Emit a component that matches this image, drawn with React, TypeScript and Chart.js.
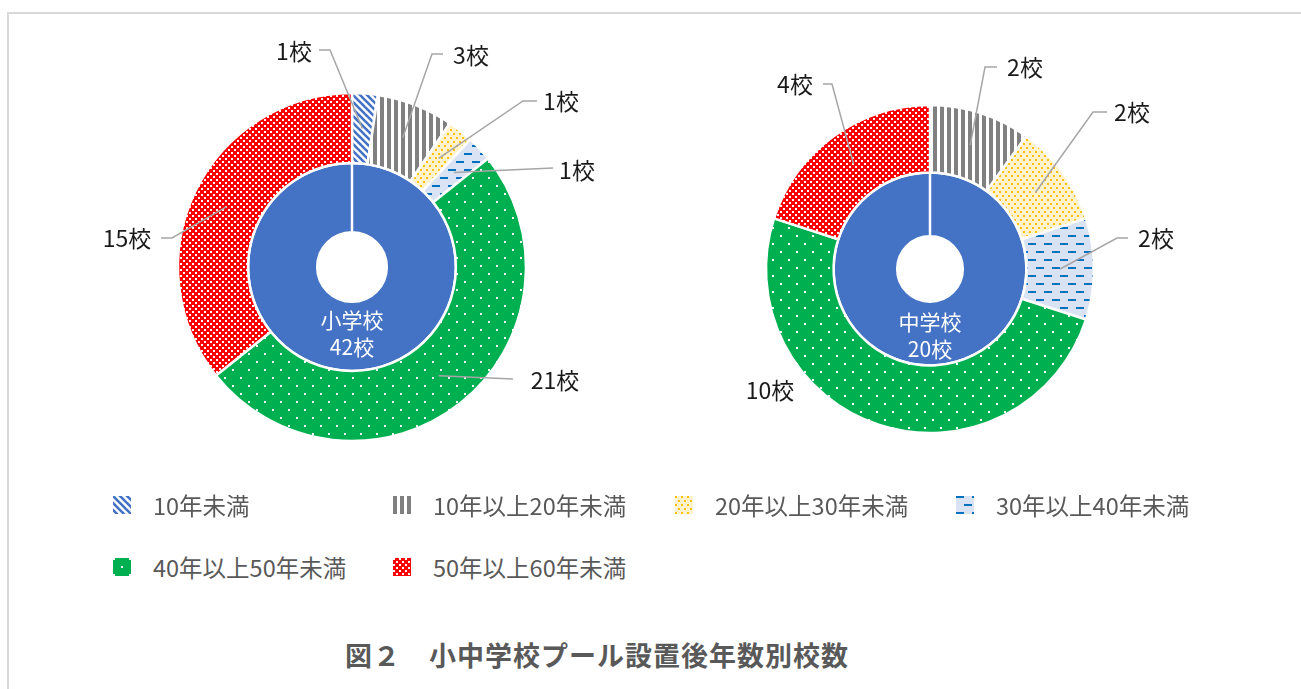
import React, { useEffect, useRef } from "react";
import { Chart, registerables } from "chart.js";

Chart.register(...registerables);

// ---------- data ----------
const categories = [
  "10年未満",
  "10年以上20年未満",
  "20年以上30年未満",
  "30年以上40年未満",
  "40年以上50年未満",
  "50年以上60年未満",
];
const elementaryCounts = [1, 3, 1, 1, 21, 15];
const juniorCounts = [0, 2, 2, 2, 10, 4];
const elementaryName = "小学校";
const juniorName = "中学校";
const elementaryTotal = [42];
const juniorTotal = [20];
const unit = "校";
const figureTitle = "図２　小中学校プール設置後年数別校数";

// ---------- layout (offsets of data labels from the doughnut centre) ----------
type LabelLayout = { text: [number, number]; start?: [number, number]; elbow?: [number, number] } | null;
const elementaryLabelLayout: LabelLayout[] = [
  { text: [-58, -216], start: [-33, -217], elbow: [-22, -217] },
  { text: [119, -212], start: [91, -213], elbow: [80, -213] },
  { text: [209, -166], start: [185, -166], elbow: [171, -166] },
  { text: [225, -97], start: [201, -99], elbow: [201, -99] },
  { text: [203, 113], start: [161, 112], elbow: [161, 112] },
  { text: [-225, -29], start: [-191, -29], elbow: [-180, -29] },
];
const juniorLabelLayout: LabelLayout[] = [
  null,
  { text: [95, -202], start: [67, -202], elbow: [55, -202] },
  { text: [202, -157], start: [177, -157], elbow: [163, -157] },
  { text: [226, -31], start: [198, -31], elbow: [187, -31] },
  { text: [-160, 121] },
  { text: [-135, -185], start: [-107, -185], elbow: [-98, -185] },
];

const FONT = '"Noto Sans CJK JP", "Noto Sans", sans-serif';

// ---------- patterns ----------
function makeTile(w: number, h: number, draw: (c: CanvasRenderingContext2D) => void) {
  const c = document.createElement("canvas");
  c.width = w;
  c.height = h;
  const ctx = c.getContext("2d")!;
  draw(ctx);
  return c;
}

function buildTiles() {
  return [
    makeTile(7, 7, (ctx) => {
      ctx.fillStyle = "#ffffff";
      ctx.fillRect(0, 0, 7, 7);
      ctx.strokeStyle = "#4472C4";
      ctx.lineWidth = 2.6;
      for (const o of [-7, 0, 7]) {
        ctx.beginPath();
        ctx.moveTo(-2, -2 + o);
        ctx.lineTo(9, 9 + o);
        ctx.stroke();
      }
    }),
    makeTile(7, 7, (ctx) => {
      ctx.fillStyle = "#ffffff";
      ctx.fillRect(0, 0, 7, 7);
      ctx.fillStyle = "#808080";
      ctx.fillRect(0, 0, 4, 7);
    }),
    makeTile(6, 8, (ctx) => {
      ctx.fillStyle = "#FFF2CC";
      ctx.fillRect(0, 0, 6, 8);
      ctx.fillStyle = "#FFC000";
      ctx.fillRect(0, 0, 2, 2);
      ctx.fillRect(3, 4, 2, 2);
    }),
    makeTile(16, 16, (ctx) => {
      ctx.fillStyle = "#DAE3F3";
      ctx.fillRect(0, 0, 16, 16);
      ctx.fillStyle = "#0070C0";
      ctx.fillRect(0, 0, 8, 2);
      ctx.fillRect(8, 8, 8, 2);
    }),
    makeTile(16, 16, (ctx) => {
      ctx.fillStyle = "#00B050";
      ctx.fillRect(0, 0, 16, 16);
      ctx.fillStyle = "#ffffff";
      ctx.fillRect(0, 0, 2, 2);
      ctx.fillRect(8, 8, 2, 2);
    }),
    makeTile(6, 6, (ctx) => {
      ctx.fillStyle = "#FF0000";
      ctx.fillRect(0, 0, 6, 6);
      ctx.fillStyle = "#ffffff";
      ctx.fillRect(0, 0, 2, 2);
      ctx.fillRect(3, 3, 2, 2);
    }),
  ];
}

// ---------- plugin for leader lines + labels ----------
const leaderPlugin = {
  id: "leaders",
  afterDatasetsDraw(chart: any, _args: any, opts: any) {
    const { ctx, chartArea } = chart;
    const cx = (chartArea.left + chartArea.right) / 2;
    const cy = (chartArea.top + chartArea.bottom) / 2;
    const meta = chart.getDatasetMeta(0);
    const values = chart.data.datasets[0].data as number[];
    ctx.save();
    meta.data.forEach((arc: any, i: number) => {
      const v = values[i];
      const L: LabelLayout = opts.layout[i];
      if (!v || !L) return;
      const p = arc.getProps(["x", "y", "startAngle", "endAngle", "innerRadius", "outerRadius"], true);
      const a = (p.startAngle + p.endAngle) / 2;
      const r = (p.innerRadius + p.outerRadius) / 2;
      const px = p.x + Math.cos(a) * r;
      const py = p.y + Math.sin(a) * r;
      if (L.start) {
        ctx.strokeStyle = "#A6A6A6";
        ctx.lineWidth = 1.5;
        ctx.beginPath();
        ctx.moveTo(cx + L.start[0], cy + L.start[1]);
        if (L.elbow) ctx.lineTo(cx + L.elbow[0], cy + L.elbow[1]);
        ctx.lineTo(px, py);
        ctx.stroke();
      }
      ctx.fillStyle = "#1a1a1a";
      ctx.font = `23px ${FONT}`;
      ctx.textAlign = "center";
      ctx.textBaseline = "middle";
      ctx.fillText(`${v}${opts.unit}`, cx + L.text[0], cy + L.text[1]);
    });
    ctx.fillStyle = "#ffffff";
    ctx.font = `21px ${FONT}`;
    ctx.textAlign = "center";
    ctx.textBaseline = "middle";
    ctx.fillText(opts.name, cx, cy + 53);
    ctx.fillText(`${opts.total}${opts.unit}`, cx, cy + 80);
    ctx.restore();
  },
};

function makeChart(
  canvas: HTMLCanvasElement,
  counts: number[],
  total: number[],
  name: string,
  layout: LabelLayout[],
  radius: number,
  weights: [number, number]
) {
  const ctx = canvas.getContext("2d")!;
  const tiles = buildTiles();
  const patterns = tiles.map((t) => ctx.createPattern(t, "repeat")!);
  return new Chart(canvas, {
    type: "doughnut",
    data: {
      labels: categories,
      datasets: [
        {
          data: counts,
          backgroundColor: patterns as any,
          borderColor: "#ffffff",
          borderWidth: 2.5,
          weight: weights[0],
        } as any,
        {
          data: total,
          backgroundColor: "#4472C4",
          borderColor: "#ffffff",
          borderWidth: 2.5,
          weight: weights[1],
        } as any,
      ],
    },
    options: {
      responsive: false,
      animation: false,
      events: [],
      radius,
      cutout: "20%",
      layout: { padding: 0 },
      plugins: {
        legend: { display: false },
        tooltip: { enabled: false },
        leaders: { layout, name, total: total[0], unit },
      } as any,
    },
    plugins: [leaderPlugin],
  });
}

const legendCols = [113, 393, 675, 956];
const legendRows = [505, 567];
const SW = 18;

export default function App() {
  const leftRef = useRef<HTMLCanvasElement>(null);
  const rightRef = useRef<HTMLCanvasElement>(null);
  const swatchRefs = useRef<(HTMLCanvasElement | null)[]>([]);

  useEffect(() => {
    const c1 = makeChart(leftRef.current!, elementaryCounts, elementaryTotal, elementaryName, elementaryLabelLayout, 174, [70, 69]);
    const c2 = makeChart(rightRef.current!, juniorCounts, juniorTotal, juniorName, juniorLabelLayout, 164, [68, 64]);
    const tiles = buildTiles();
    swatchRefs.current.forEach((s, i) => {
      if (!s) return;
      const ctx = s.getContext("2d")!;
      ctx.fillStyle = ctx.createPattern(tiles[i], "repeat")!;
      ctx.fillRect(0, 0, s.width, s.height);
    });
    return () => {
      c1.destroy();
      c2.destroy();
    };
  }, []);

  return (
    <div
      style={{
        position: "absolute",
        left: 0,
        top: 0,
        width: 1301,
        height: 689,
        overflow: "hidden",
        background: "#ffffff",
        fontFamily: FONT,
      }}
    >
      <div
        style={{
          position: "absolute",
          left: 7,
          top: 12,
          width: 1400,
          height: 800,
          borderTop: "2px solid #D9D9D9",
          borderLeft: "2px solid #D9D9D9",
        }}
      />
      <canvas ref={leftRef} width={560} height={500} style={{ position: "absolute", left: 72, top: 17 }} />
      <canvas ref={rightRef} width={540} height={500} style={{ position: "absolute", left: 660, top: 19 }} />
      {categories.map((c, i) => {
        const col = i % 4;
        const row = Math.floor(i / 4);
        const x = legendCols[col];
        const y = legendRows[row];
        return (
          <React.Fragment key={c}>
            <canvas
              ref={(el) => {
                swatchRefs.current[i] = el;
              }}
              width={SW}
              height={SW}
              style={{ position: "absolute", left: x, top: y - SW / 2 }}
            />
            <div
              style={{
                position: "absolute",
                left: x + 40,
                top: y - 16,
                height: 32,
                lineHeight: "32px",
                fontSize: 23.5,
                color: "#595959",
                whiteSpace: "nowrap",
              }}
            >
              {c}
            </div>
          </React.Fragment>
        );
      })}
      <div
        style={{
          position: "absolute",
          left: 345,
          top: 655 - 20,
          height: 40,
          lineHeight: "40px",
          fontSize: 27,
          fontWeight: 700,
          letterSpacing: 1,
          color: "#595959",
          whiteSpace: "nowrap",
        }}
      >
        {figureTitle}
      </div>
    </div>
  );
}
